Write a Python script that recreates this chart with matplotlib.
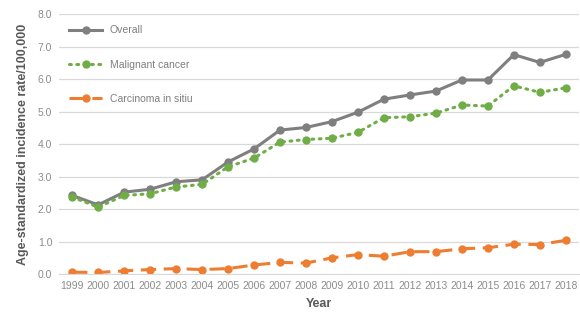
import numpy as np
import matplotlib.pyplot as plt

plt.rcParams['font.family'] = ['Liberation Sans', 'DejaVu Sans']

years = list(range(1999, 2019))
overall = [2.42, 2.13, 2.52, 2.61, 2.84, 2.90, 3.45, 3.85, 4.43, 4.51, 4.69, 4.98,
           5.38, 5.51, 5.63, 5.97, 5.97, 6.75, 6.51, 6.76]
malignant = [2.37, 2.06, 2.42, 2.47, 2.68, 2.76, 3.30, 3.57, 4.06, 4.14, 4.18, 4.36,
             4.81, 4.84, 4.95, 5.20, 5.17, 5.79, 5.59, 5.73]
carcinoma = [0.06, 0.05, 0.10, 0.14, 0.17, 0.14, 0.17, 0.28, 0.36, 0.34, 0.50, 0.60,
             0.55, 0.69, 0.69, 0.78, 0.81, 0.92, 0.91, 1.04]

grey = '#7F7F7F'
green = '#70AD47'
orange = '#ED7D31'
tick_col = '#8C8C8C'

fig = plt.figure(figsize=(5.8, 3.18), dpi=100)
ax = fig.add_axes([0.102, 0.138, 0.896, 0.818])

x = np.arange(len(years))
ax.plot(x, overall, color=grey, lw=2.2, marker='o', ms=5, label='Overall')
ax.plot(x, malignant, color=green, lw=2.2, ls=(0, (0.6, 1.8)), dash_capstyle='round',
        marker='o', ms=5, label='Malignant cancer')
ax.plot(x, carcinoma, color=orange, lw=2.2, ls=(0, (5, 2.5)), marker='o', ms=5,
        label='Carcinoma in sitiu')

ax.set_xlim(-0.5, len(years) - 0.5)
ax.set_ylim(0, 8)
ax.set_yticks(np.arange(0, 8.1, 1.0))
ax.set_yticklabels([f'{v:.1f}' for v in np.arange(0, 8.1, 1.0)])
ax.set_xticks(x)
ax.set_xticklabels([str(y) for y in years])
ax.tick_params(axis='both', length=0, labelsize=7.5, colors=tick_col, pad=5)
ax.grid(axis='y', color='#D9D9D9', lw=0.9)
ax.set_axisbelow(True)
for s in ['top', 'right', 'left']:
    ax.spines[s].set_visible(False)
ax.spines['bottom'].set_color('#D9D9D9')

ax.set_xlabel('Year', fontsize=9, fontweight='bold', color='#595959', labelpad=5)
ax.set_ylabel('Age-standardized incidence rate/100,000', fontsize=9,
              fontweight='bold', color='#595959', labelpad=6)

leg = ax.legend(loc='upper left', bbox_to_anchor=(0.005, 0.985), frameon=False,
                fontsize=7.5, handlelength=3.2, labelspacing=2.35, handletextpad=0.7,
                borderaxespad=0.3)
for t in leg.get_texts():
    t.set_color('#7F7F7F')

fig.savefig('out.png', dpi=100)
